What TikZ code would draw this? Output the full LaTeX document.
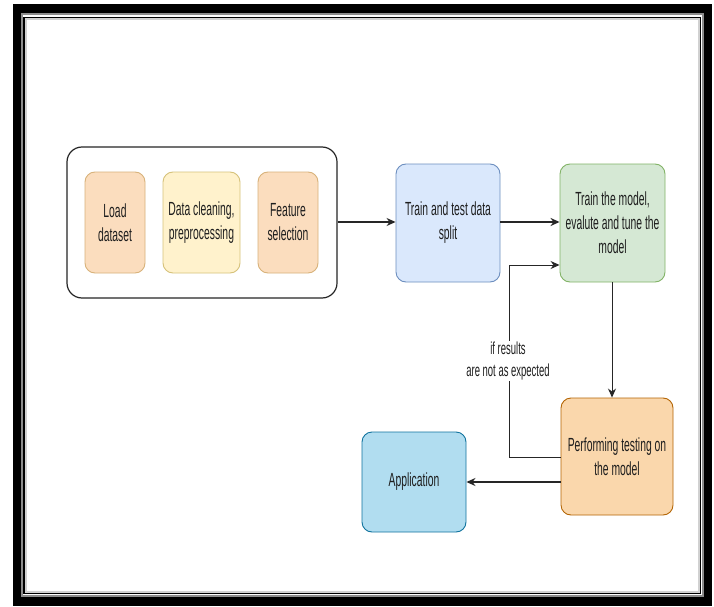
\documentclass[tikz,border=0pt]{standalone}
\usepackage{fontspec}
\setmainfont[FakeStretch=0.545]{Liberation Sans}
\usetikzlibrary{arrows.meta}
\definecolor{loadfill}{HTML}{FBDDBE}
\definecolor{loaddraw}{HTML}{D8B27A}
\definecolor{cleanfill}{HTML}{FFF2CC}
\definecolor{cleandraw}{HTML}{D6C27A}
\definecolor{splitfill}{HTML}{DAE8FC}
\definecolor{splitdraw}{HTML}{6C8EBF}
\definecolor{modelfill}{HTML}{D5E8D4}
\definecolor{modeldraw}{HTML}{82B366}
\definecolor{testfill}{HTML}{FAD7AC}
\definecolor{testdraw}{HTML}{B46504}
\definecolor{appfill}{HTML}{B1DDF0}
\definecolor{appdraw}{HTML}{10739E}
\definecolor{txt}{HTML}{1E1E1E}
\tikzset{
  stepbox/.style={draw, rounded corners=10pt, line width=0.9pt, align=center,
    text=txt, font=\fontsize{19}{24}\selectfont, inner sep=0pt},
  flow/.style={draw=black!85, line width=1.3pt, -{Stealth[length=9pt,width=8pt]}},
  thinflow/.style={draw=black!85, line width=1pt, -{Stealth[length=9pt,width=8pt]}},
}
\begin{document}
\begin{tikzpicture}[x=1pt,y=-1pt]
\useasboundingbox (0,0) rectangle (714,607);
\fill[white] (0,0) rectangle (714,607);
% frame
\draw[line width=8.5pt, black] (17,8.5) rectangle (708,601.5);
\draw[line width=2pt, black!45] (22,14.5) rectangle (703,596);
\draw[line width=1.6pt, black] (24,17.5) rectangle (700.5,593.5);
\draw[line width=1.6pt, black!18] (25.8,19.3) rectangle (698.7,591.7);
% group
\node[draw=black!85, line width=1.2pt, rounded corners=15pt, minimum width=270pt, minimum height=151pt] (grp) at (202,222.5) {};
\node[stepbox, fill=loadfill, draw=loaddraw, minimum width=60pt, minimum height=101pt] (load) at (115,222.5) {Load\\dataset};
\node[stepbox, fill=cleanfill, draw=cleandraw, minimum width=77pt, minimum height=101pt] (clean) at (201.5,222.5) {Data cleaning,\\preprocessing};
\node[stepbox, fill=loadfill, draw=loaddraw, minimum width=60pt, minimum height=101pt] (feat) at (288,222.5) {Feature\\selection};
% main boxes
\node[stepbox, fill=splitfill, draw=splitdraw, minimum width=104pt, minimum height=118pt] (split) at (448,223) {Train and test data\\split};
\node[stepbox, fill=modelfill, draw=modeldraw, minimum width=105pt, minimum height=118pt] (model) at (612.5,223) {Train the model,\\evalute and tune the\\model};
\node[stepbox, fill=testfill, draw=testdraw, minimum width=112pt, minimum height=117pt] (test) at (617,456.5) {Performing testing on\\the model};
\node[stepbox, fill=appfill, draw=appdraw, minimum width=104pt, minimum height=100pt] (app) at (414,482) {Application};
% connectors
\draw[flow] (grp.east |- 0,222) -- (split.west |- 0,222);
\draw[flow, line width=1.8pt] (split.east |- 0,222) -- (model.west |- 0,222);
\coordinate (mx) at (612,0);
\draw[thinflow] (model.south -| mx) -- (test.north -| mx);
\coordinate (fb1) at (509,457);
\coordinate (fb2) at (509,265);
\draw[thinflow] (test.west |- fb1) -- (fb1) -- (fb2) -- (model.west |- fb2);
\draw[flow] (test.west |- 0,482) -- (app.east |- 0,482);
\node[fill=white, align=center, text=txt, font=\fontsize{17.4}{22}\selectfont, inner sep=1pt] (lbl) at (508,361) {if results\\are not as expected};
\end{tikzpicture}
\end{document}
